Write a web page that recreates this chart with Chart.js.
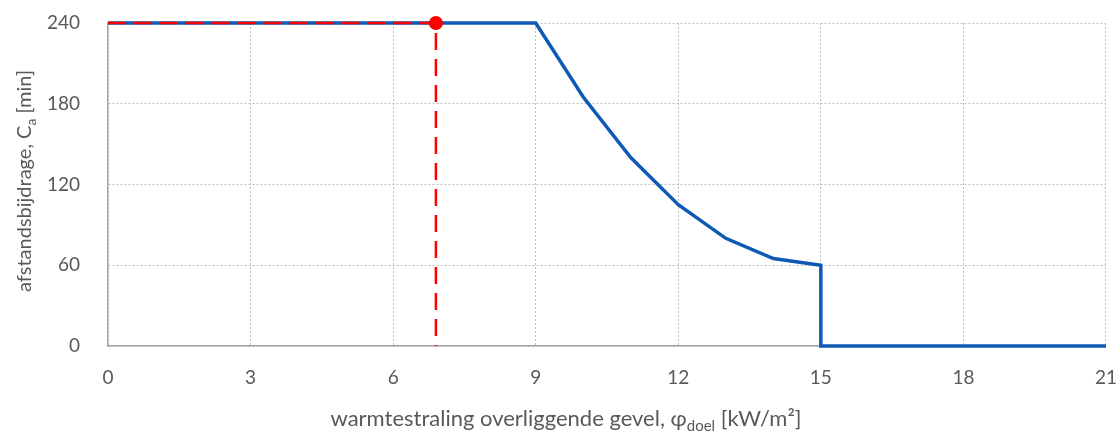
<!DOCTYPE html>
<html>
<head>
<meta charset="utf-8">
<script src="https://cdn.jsdelivr.net/npm/chart.js@4"></script>
<style>
  html, body { margin: 0; padding: 0; background: #fff; }
  #wrap { width: 1119px; height: 434px; position: relative; }
</style>
</head>
<body>
<div id="wrap"><canvas id="chart"></canvas></div>
<script>
// curve: afstandsbijdrage vs warmtestraling
const curveX = [0, 9, 10, 11, 12, 13, 14, 15, 15, 21];
const curveY = [240, 240, 185, 140, 105, 80, 65, 60, 0, 0];
// red read-off lines
const readX = [0, 6.9, 6.9];
const readY = [240, 240, 0];
const dotX = [6.9];
const dotY = [240];

const xMin = 0, xMax = 21, xStep = 3;
const yMin = 0, yMax = 240, yStep = 60;

const FONT = 'Lato, "Open Sans", sans-serif';
const TEXT = '#595959';

function pts(xs, ys) {
    return xs.map((x, i) => ({ x: x, y: ys[i] }));
}

// draws a list of [text, isSub] parts, centred on 0
function drawParts(ctx, parts, size, subSize) {
    let total = 0;
    parts.forEach(p => {
        ctx.font = (p[1] ? subSize : size) + 'px ' + FONT;
        total += ctx.measureText(p[0]).width;
    });
    let x = -total / 2;
    parts.forEach(p => {
        ctx.font = (p[1] ? subSize : size) + 'px ' + FONT;
        ctx.fillText(p[0], x, p[1] ? 5 : 0);
        x += ctx.measureText(p[0]).width;
    });
}

const titlesPlugin = {
    id: 'axisTitles',
    afterDraw: (chart) => {
        const { ctx } = chart;
        ctx.save();
        ctx.fillStyle = TEXT;
        ctx.textBaseline = 'alphabetic';
        ctx.textAlign = 'left';

        ctx.save();
        ctx.translate(566, 426);
        drawParts(ctx, [['warmtestraling overliggende gevel, φ', false], ['doel', true], [' [kW/m²]', false]], 22, 15);
        ctx.restore();

        ctx.save();
        ctx.translate(31, 181);
        ctx.rotate(-Math.PI / 2);
        drawParts(ctx, [['afstandsbijdrage, C', false], ['a', true], [' [min]', false]], 20, 14);
        ctx.restore();

        ctx.restore();
    }
};

new Chart(document.getElementById('chart'), {
    type: 'scatter',
    plugins: [titlesPlugin],
    data: {
        datasets: [{
            data: pts(dotX, dotY),
            showLine: false,
            pointRadius: 7,
            pointBackgroundColor: '#FF0000',
            pointBorderWidth: 0,
            order: 0,
            clip: false
        }, {
            data: pts(readX, readY),
            showLine: true,
            borderColor: '#FF0000',
            borderWidth: 2.5,
            borderDash: [17, 9],
            pointRadius: 0,
            order: 1,
            clip: false
        }, {
            data: pts(curveX, curveY),
            showLine: true,
            borderColor: '#0E59B6',
            borderWidth: 3.5,
            pointRadius: 0,
            tension: 0,
            order: 2,
            clip: false
        }]
    },
    options: {
        responsive: true,
        maintainAspectRatio: false,
        animation: false,
        layout: {
            padding: { top: 23, right: 13, bottom: 0, left: 0 }
        },
        plugins: {
            legend: { display: false },
            tooltip: { enabled: false }
        },
        scales: {
            x: {
                type: 'linear',
                min: xMin,
                max: xMax,
                afterFit: (scale) => { scale.height = 88; },
                ticks: {
                    stepSize: xStep,
                    padding: 2,
                    color: TEXT,
                    font: { family: FONT, size: 19 }
                },
                grid: {
                    color: '#C0C0C0',
                    lineWidth: 1,
                    drawTicks: true,
                    tickLength: 18,
                    tickColor: 'rgba(0,0,0,0)'
                },
                border: {
                    color: '#A6A6A6',
                    width: 1.5,
                    dash: [2, 2]
                }
            },
            y: {
                min: yMin,
                max: yMax,
                afterFit: (scale) => { scale.width = 108; },
                ticks: {
                    stepSize: yStep,
                    padding: 2,
                    color: TEXT,
                    font: { family: FONT, size: 19 }
                },
                grid: {
                    color: '#C0C0C0',
                    lineWidth: 1,
                    drawTicks: true,
                    tickLength: 26,
                    tickColor: 'rgba(0,0,0,0)'
                },
                border: {
                    color: '#A6A6A6',
                    width: 1.5,
                    dash: [2, 2]
                }
            }
        }
    }
});
</script>
</body>
</html>
